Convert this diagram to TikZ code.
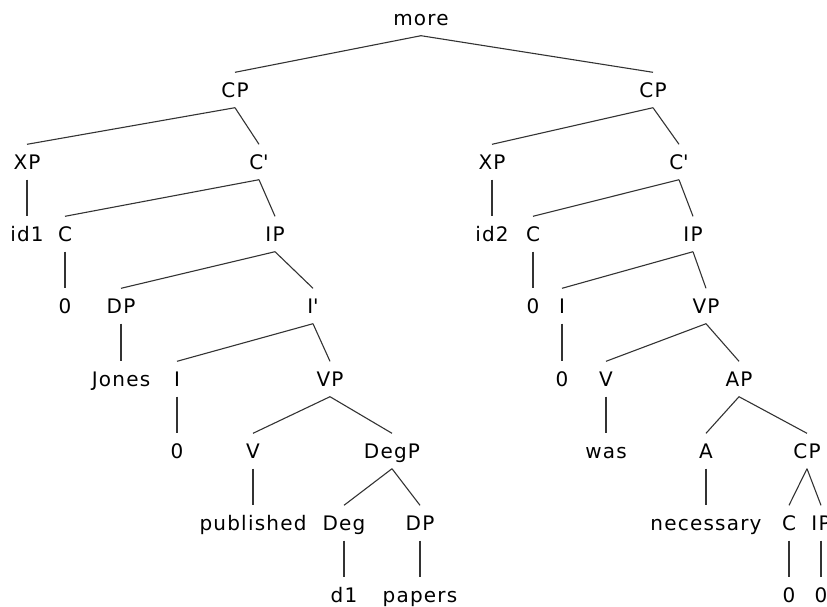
\documentclass[tikz,border=0pt]{standalone}
\usepackage{fontspec}
\setmainfont{DejaVu Sans}[LetterSpace=6]
\begin{document}
\begin{tikzpicture}[x=1pt,y=-1pt,
  lab/.style={inner sep=0pt,minimum height=35pt,text height=16pt,text depth=2pt,
    font=\fontsize{20}{24}\selectfont},
  edge/.style={draw=black!80,line width=1.1pt}]
\useasboundingbox (0,0) rectangle (827,606);
% level 0
\node[lab] (more) at (421,18) {more};
% level 1
\node[lab] (cpL) at (235,90) {CP};
\node[lab] (cpR) at (653,90) {CP};
% level 2
\node[lab] (xpL) at (27,162) {XP};
\node[lab] (cbL) at (259,162) {C\textquotesingle};
\node[lab] (xpR) at (492,162) {XP};
\node[lab] (cbR) at (679,162) {C\textquotesingle};
% level 3
\node[lab] (id1) at (27,234) {id1};
\node[lab] (cL) at (65,234) {C};
\node[lab] (ipL) at (275,234) {IP};
\node[lab] (id2) at (492,234) {id2};
\node[lab] (cR) at (533,234) {C};
\node[lab] (ipR) at (693,234) {IP};
% level 4
\node[lab] (z1) at (65,306) {0};
\node[lab] (dpL) at (121,306) {DP};
\node[lab] (ibL) at (313,306) {I\textquotesingle};
\node[lab] (z2) at (533,306) {0};
\node[lab] (iR) at (562,306) {I};
\node[lab] (vpR) at (706,306) {VP};
% level 5
\node[lab] (jones) at (121,379) {Jones};
\node[lab] (iL) at (177,379) {I};
\node[lab] (vpL) at (330,379) {VP};
\node[lab] (z3) at (562,379) {0};
\node[lab] (vR) at (606,379) {V};
\node[lab] (ap) at (739,379) {AP};
% level 6
\node[lab] (z4) at (177,451) {0};
\node[lab] (vL) at (253,451) {V};
\node[lab] (degp) at (392,451) {DegP};
\node[lab] (was) at (606,451) {was};
\node[lab] (a) at (706,451) {A};
\node[lab] (cpS) at (807,451) {CP};
% level 7
\node[lab] (published) at (253,523) {published};
\node[lab] (deg) at (344,523) {Deg};
\node[lab] (dpS) at (420,523) {DP};
\node[lab] (necessary) at (706,523) {necessary};
\node[lab] (cS) at (789,523) {C};
\node[lab] (ipS) at (821,523) {IP};
% level 8
\node[lab] (d1) at (344,595) {d1};
\node[lab] (papers) at (420,595) {papers};
\node[lab] (z5) at (789,595) {0};
\node[lab] (z6) at (821,595) {0};
% edges
\foreach \p/\c in {more/cpL,more/cpR,cpL/xpL,cpL/cbL,cpR/xpR,cpR/cbR,
  xpL/id1,cbL/cL,cbL/ipL,xpR/id2,cbR/cR,cbR/ipR,
  cL/z1,ipL/dpL,ipL/ibL,cR/z2,ipR/iR,ipR/vpR,
  dpL/jones,ibL/iL,ibL/vpL,iR/z3,vpR/vR,vpR/ap,
  iL/z4,vpL/vL,vpL/degp,vR/was,ap/a,ap/cpS,
  vL/published,degp/deg,degp/dpS,a/necessary,cpS/cS,cpS/ipS,
  deg/d1,dpS/papers,cS/z5,ipS/z6}
  \draw[edge] (\p.south) -- (\c.north);
\end{tikzpicture}
\end{document}
